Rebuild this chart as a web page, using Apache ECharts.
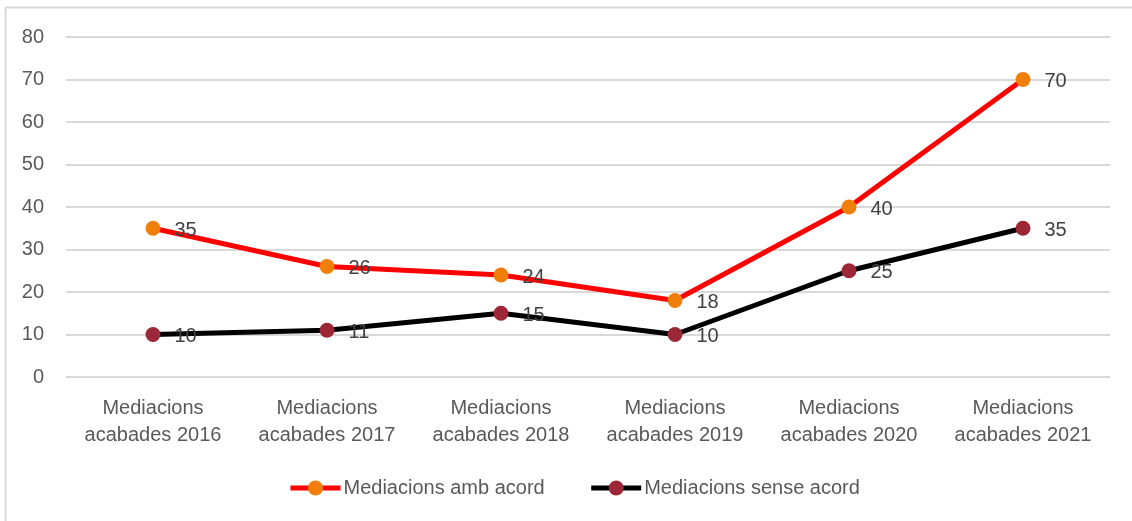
<!DOCTYPE html>
<html>
<head>
<meta charset="utf-8">
<script src="https://cdn.jsdelivr.net/npm/echarts@6/dist/echarts.min.js"></script>
<style>
html,body{margin:0;padding:0;background:#fff;}
#chart{width:1132px;height:521px;}
</style>
</head>
<body>
<div id="chart"></div>
<script>
const categories = ['Mediacions\nacabades 2016','Mediacions\nacabades 2017','Mediacions\nacabades 2018','Mediacions\nacabades 2019','Mediacions\nacabades 2020','Mediacions\nacabades 2021'];
const ambAcord = [35, 26, 24, 18, 40, 70];
const senseAcord = [10, 11, 15, 10, 25, 35];
const seriesNames = ['Mediacions amb acord', 'Mediacions sense acord'];

const chart = echarts.init(document.getElementById('chart'), null, {renderer: 'canvas'});
const font = 'Liberation Sans, Arial, sans-serif';
chart.setOption({
  animation: false,
  backgroundColor: '#ffffff',
  graphic: [
    {type: 'line', shape: {x1: 5.5, y1: 7.5, x2: 1132, y2: 7.5}, style: {stroke: '#d9d9d9', lineWidth: 2}},
    {type: 'line', shape: {x1: 5.5, y1: 7.5, x2: 5.5, y2: 521}, style: {stroke: '#d9d9d9', lineWidth: 2}}
  ],
  grid: {left: 66, right: 22, top: 37, bottom: 144, containLabel: false},
  legend: {
    top: 473, left: 283,
    itemWidth: 50, itemHeight: 19, itemGap: 44,
    lineStyle: {width: 5},
    textStyle: {fontFamily: font, fontSize: 20, color: '#595959', padding: [0,0,0,-2]},
    data: seriesNames
  },
  xAxis: {
    type: 'category', data: categories, boundaryGap: true,
    axisLine: {show: false}, axisTick: {show: false},
    axisLabel: {interval: 0, hideOverlap: false, fontFamily: font, fontSize: 20, color: '#595959', lineHeight: 27, margin: 18}
  },
  yAxis: {
    type: 'value', min: 0, max: 80, interval: 10,
    axisLine: {show: false}, axisTick: {show: false},
    axisLabel: {fontFamily: font, fontSize: 20, color: '#595959', margin: 22},
    splitLine: {lineStyle: {color: '#d9d9d9', width: 2}}
  },
  series: [
    {
      name: seriesNames[0], type: 'line', data: ambAcord,
      symbol: 'circle', symbolSize: 15,
      lineStyle: {color: '#ff0000', width: 5},
      itemStyle: {color: '#ef7f0a', borderWidth: 0},
      label: {show: true, position: 'right', distance: 14, offset: [0, 2], fontFamily: font, fontSize: 20, color: '#404040'},
      z: 2
    },
    {
      name: seriesNames[1], type: 'line', data: senseAcord,
      symbol: 'circle', symbolSize: 15,
      lineStyle: {color: '#000000', width: 5},
      itemStyle: {color: '#9b2737', borderWidth: 0},
      label: {show: true, position: 'right', distance: 14, offset: [0, 2], fontFamily: font, fontSize: 20, color: '#404040'},
      z: 3
    }
  ]
});
</script>
</body>
</html>
